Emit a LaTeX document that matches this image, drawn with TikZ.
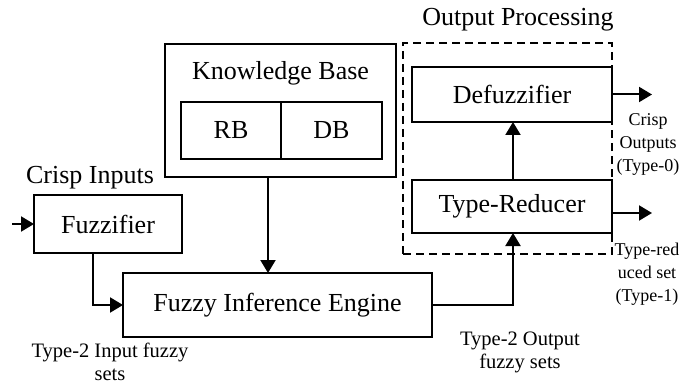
\documentclass[tikz,border=0pt]{standalone}
\usepackage{fontspec}
\setmainfont{Liberation Serif}
\usetikzlibrary{arrows.meta}
\begin{document}
\begin{tikzpicture}[x=1pt,y=-1pt,
  every node/.style={inner sep=0pt, outer sep=0pt},
  blk/.style={draw, line width=2pt, rectangle, font=\fontsize{26}{30}\selectfont},
  ttl/.style={font=\fontsize{26}{30}\selectfont},
  lbl/.style={align=center, font=\fontsize{20.5}{23}\selectfont},
  rlbl/.style={align=center, font=\fontsize{18}{23}\selectfont},
  conn/.style={line width=2pt, -{Triangle[length=13pt,width=15pt]}},
  dashbox/.style={draw, line width=2pt, dash pattern=on 8pt off 5pt}]
\useasboundingbox (0,0) rectangle (696,385);
% boxes
\node[blk, minimum width=148pt, minimum height=58pt] (fuzz) at (108,224) {Fuzzifier};
\node[blk, minimum width=309pt, minimum height=64pt] (fie) at (277.5,305) {Fuzzy Inference Engine};
\node[blk, minimum width=231pt, minimum height=133pt] (kb) at (280.5,110.5) {};
\node[ttl] (kbt) at (280.5,73) {Knowledge Base};
\node[blk, minimum width=100pt, minimum height=57pt] (rb) at (231,130.5) {RB};
\node[blk, minimum width=101pt, minimum height=57pt] (db) at (331.5,130.5) {DB};
\node[dashbox, minimum width=209pt, minimum height=211pt] (op) at (507.5,148.5) {};
\node[ttl] (opt) at (518,20) {Output Processing};
\node[blk, minimum width=200pt, minimum height=55pt] (dfz) at (512,94.5) {Defuzzifier};
\node[blk, minimum width=200pt, minimum height=53pt] (tr) at (512,206.5) {Type-Reducer};
\node[ttl] (cin) at (90,178) {Crisp Inputs};
% labels
\node[lbl] (l1) at (110,362) {Type-2 Input fuzzy\\sets};
\node[lbl] (l2) at (520,352) {Type-2 Output\\fuzzy sets};
\node[rlbl] (l3) at (648,144) {Crisp\\Outputs\\(Type-0)};
\node[rlbl] (l4) at (647,274) {Type-red\\uced set\\(Type-1)};
% coordinates
\coordinate (inp) at (12,224);
\coordinate (o1) at (652,94.5);
\coordinate (o2) at (652,213);
% connectors
\draw[conn] (inp) -- (fuzz.west);
\draw[conn] (fuzz.south -| 93,0) |- (fie.west);
\draw[conn] (kb.south -| 268,0) -- (fie.north -| 268,0);
\draw[conn] (fie.east) -| (tr.south -| 513,0);
\draw[conn] (tr.north -| 513,0) -- (dfz.south -| 513,0);
\draw[conn] (dfz.east) -- (o1);
\draw[conn] (tr.east |- o2) -- (o2);
\end{tikzpicture}
\end{document}
